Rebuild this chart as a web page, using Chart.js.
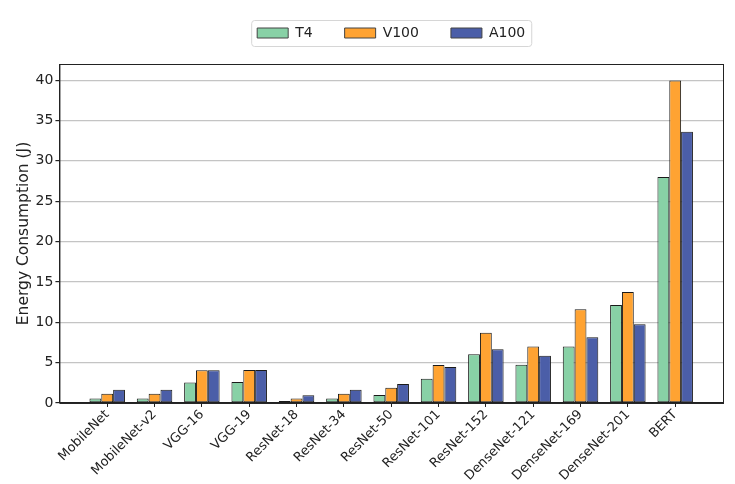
<!DOCTYPE html>
<html lang="en">
<head>
    <meta charset="UTF-8">
    <title>Energy Consumption per Model</title>
    <script src="https://cdn.jsdelivr.net/npm/chart.js"></script>
    <style>
        html, body { margin: 0; padding: 0; background: #fff; }
        #wrap { width: 735px; height: 484px; }
    </style>
</head>
<body>
    <div id="wrap"><canvas id="energyChart"></canvas></div>

    <script>
        // Data
        const models = ['MobileNet', 'MobileNet-v2', 'VGG-16', 'VGG-19', 'ResNet-18', 'ResNet-34',
            'ResNet-50', 'ResNet-101', 'ResNet-152', 'DenseNet-121', 'DenseNet-169', 'DenseNet-201', 'BERT'];
        const t4   = [0.55, 0.55, 2.55, 2.6, 0.25, 0.55, 1.0, 3.0, 6.05, 4.75, 7.0, 12.15, 28.0];
        const v100 = [1.15, 1.15, 4.05, 4.1, 0.55, 1.15, 1.9, 4.7, 8.7, 7.0, 11.6, 13.75, 39.95];
        const a100 = [1.65, 1.65, 4.05, 4.1, 0.95, 1.65, 2.35, 4.45, 6.65, 5.85, 8.15, 9.75, 33.6];
        const yTicks = [0, 5, 10, 15, 20, 25, 30, 35, 40];

        const toPoints = arr => arr.map((v, i) => ({ x: i, y: v }));

        // legend centred over the plot area and lifted a bit, like matplotlib's
        const legendShift = {
            id: 'legendShift',
            afterLayout(chart) {
                const lg = chart.legend, a = chart.chartArea;
                if (!lg) return;
                const dx = (a.left + a.right) / 2 - (lg.left + lg.right) / 2;
                lg.left += dx; lg.right += dx;
                lg.top -= 14; lg.bottom -= 14;
            }
        };

        // matplotlib-like closed frame + legend box
        const framePlugin = {
            id: 'frame',
            afterDraw(chart) {
                const { ctx, chartArea: a, legend } = chart;
                ctx.save();
                ctx.strokeStyle = '#222';
                ctx.lineWidth = 1;
                ctx.strokeRect(a.left + 0.5, a.top + 0.5, a.right - a.left, a.bottom - a.top);
                if (legend && legend.legendHitBoxes.length) {
                    const boxes = legend.legendHitBoxes;
                    const x0 = boxes[0].left - 6;
                    const last = boxes[boxes.length - 1];
                    const x1 = last.left + last.width + 6;
                    const y0 = boxes[0].top - 6;
                    const y1 = boxes[0].top + boxes[0].height + 6;
                    ctx.strokeStyle = '#d6d6d6';
                    ctx.beginPath();
                    ctx.roundRect(x0 + 0.5, y0 + 0.5, x1 - x0, y1 - y0, 3);
                    ctx.stroke();
                }
                ctx.restore();
            }
        };

        const ctx = document.getElementById('energyChart').getContext('2d');
        new Chart(ctx, {
            type: 'bar',
            data: {
                datasets: [
                    { label: 'T4', data: toPoints(t4), backgroundColor: '#88d1a6' },
                    { label: 'V100', data: toPoints(v100), backgroundColor: '#ffa332' },
                    { label: 'A100', data: toPoints(a100), backgroundColor: '#4b5ea8' }
                ]
            },
            options: {
                responsive: true,
                maintainAspectRatio: false,
                animation: false,
                layout: { padding: { top: 8, right: 12, left: 7, bottom: 0 } },
                datasets: {
                    bar: {
                        borderColor: '#1a1a1a',
                        borderWidth: 1,
                        borderSkipped: false,
                        categoryPercentage: 0.75,
                        barPercentage: 1.0
                    }
                },
                plugins: {
                    legend: {
                        display: true,
                        position: 'top',
                        labels: {
                            boxWidth: 31,
                            boxHeight: 10,
                            padding: 32,
                            color: '#222',
                            font: { family: 'DejaVu Sans', size: 14 },
                            generateLabels(chart) {
                                return chart.data.datasets.map((ds, i) => ({
                                    text: ds.label,
                                    fillStyle: ds.backgroundColor,
                                    strokeStyle: '#444',
                                    lineWidth: 1,
                                    datasetIndex: i,
                                    fontColor: '#222'
                                }));
                            }
                        }
                    },
                    tooltip: { enabled: false }
                },
                scales: {
                    x: {
                        type: 'linear',
                        offset: false,
                        min: -1.01,
                        max: models.length - 1 + 1.01,
                        afterBuildTicks(scale) {
                            scale.ticks = models.map((_, i) => ({ value: i }));
                        },
                        ticks: {
                            autoSkip: false,
                            minRotation: 45,
                            maxRotation: 45,
                            padding: 0,
                            color: '#222',
                            font: { family: 'DejaVu Sans', size: 13 },
                            callback: value => models[value]
                        },
                        grid: { display: true, offset: false, drawOnChartArea: false, drawTicks: true, tickLength: 4, color: '#222' },
                        border: { display: true, color: '#222' }
                    },
                    y: {
                        min: 0,
                        max: 42,
                        afterBuildTicks(scale) {
                            scale.ticks = yTicks.map(v => ({ value: v }));
                        },
                        ticks: {
                            padding: 2,
                            color: '#222',
                            font: { family: 'DejaVu Sans', size: 14 }
                        },
                        grid: { color: '#c4c4c4', lineWidth: 1.2, tickLength: 4, tickColor: '#222' },
                        border: { display: true, color: '#222' },
                        title: {
                            display: true,
                            text: 'Energy Consumption (J)',
                            color: '#222',
                            padding: { top: 8, bottom: 0 },
                            font: { family: 'DejaVu Sans', size: 15.5 }
                        }
                    }
                }
            },
            plugins: [legendShift, framePlugin]
        });
    </script>
</body>
</html>
